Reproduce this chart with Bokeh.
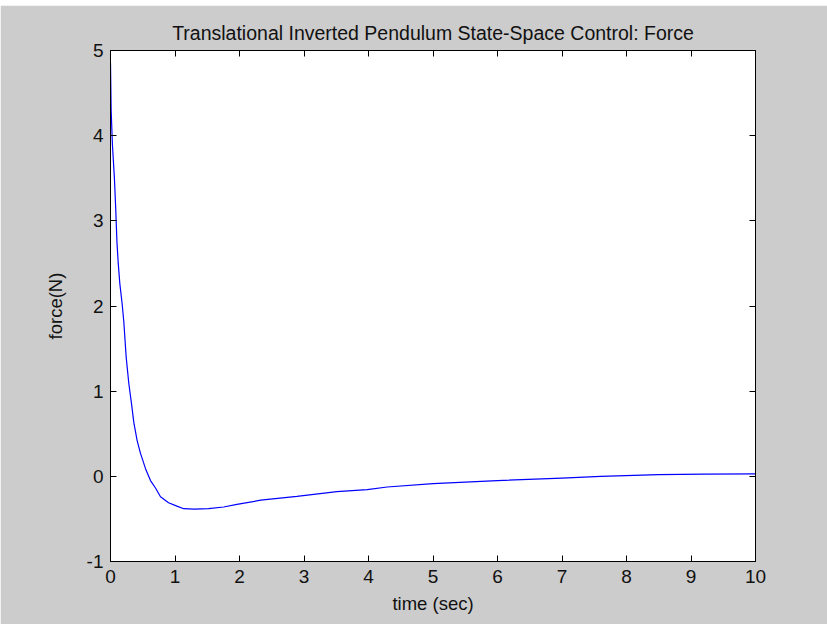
from bokeh.plotting import figure
from bokeh.models import LinearAxis, Range1d, FixedTicker, Title, Spacer
from bokeh.layouts import column
from bokeh.embed import file_html
from bokeh.resources import INLINE

# data
t = [0.0, 0.01, 0.03, 0.06, 0.08, 0.10, 0.12, 0.145, 0.18, 0.207, 0.243, 0.284,
     0.326, 0.362, 0.413, 0.465, 0.543, 0.62, 0.70, 0.775, 0.90, 1.03, 1.135,
     1.3, 1.52, 1.755, 1.96, 2.33, 2.89, 3.51, 3.98, 4.29, 5.0, 6.0, 7.0, 7.6,
     8.5, 9.2, 10.0]
force = [4.85, 4.3, 3.89, 3.51, 3.16, 2.75, 2.5, 2.26, 2.03, 1.81, 1.40, 1.09,
         0.85, 0.63, 0.42, 0.27, 0.09, -0.05, -0.14, -0.24, -0.31, -0.35, -0.38,
         -0.385, -0.38, -0.36, -0.33, -0.28, -0.235, -0.18, -0.156, -0.125,
         -0.085, -0.05, -0.02, 0.0, 0.02, 0.025, 0.03]
x_ticks = [0, 1, 2, 3, 4, 5, 6, 7, 8, 9, 10]
y_ticks = [-1, 0, 1, 2, 3, 4, 5]
y_tick_labels = ["-1", "0", "1", "2", "3", "4", "5"]

FONT = "Liberation Sans"
GRAY = "#cccccc"

p = figure(width=827, height=619, output_backend="svg", toolbar_location=None,
           x_range=Range1d(0, 10), y_range=Range1d(-1, 5),
           x_axis_location=None, y_axis_location=None,
           min_border_left=110, min_border_right=72, min_border_top=45,
           min_border_bottom=63)
p.background_fill_color = "white"
p.border_fill_color = GRAY
p.outline_line_color = "black"
p.grid.visible = False

def style(ax):
    ax.axis_line_color = "black"
    ax.major_tick_line_color = "black"
    ax.major_tick_in = 6
    ax.major_tick_out = 0
    ax.minor_tick_line_color = None
    ax.major_label_text_font = FONT
    ax.major_label_text_font_size = "19px"
    ax.major_label_text_color = "#111111"
    ax.axis_label_text_font = FONT
    ax.axis_label_text_font_size = "18.5px"
    ax.axis_label_text_font_style = "normal"
    ax.axis_label_text_color = "#111111"

xb = LinearAxis(ticker=FixedTicker(ticks=x_ticks), axis_label="time (sec)")
style(xb)
xb.major_label_standoff = 8
xb.axis_label_standoff = 7
p.add_layout(xb, "below")

yl = LinearAxis(ticker=FixedTicker(ticks=y_ticks), axis_label="force(N)")
style(yl)
yl.major_label_overrides = {v: s for v, s in zip(y_ticks, y_tick_labels)}
yl.major_label_standoff = 7
yl.axis_label_standoff = 18
p.add_layout(yl, "left")

xt = LinearAxis(ticker=FixedTicker(ticks=x_ticks))
style(xt)
xt.major_label_overrides = {v: "" for v in x_ticks}
xt.major_label_standoff = 0
p.add_layout(xt, "above")

yr = LinearAxis(ticker=FixedTicker(ticks=y_ticks))
style(yr)
yr.major_label_overrides = {v: "" for v in y_ticks}
yr.major_label_standoff = 0
p.add_layout(yr, "right")

p.title = Title(text="Translational Inverted Pendulum State-Space Control: Force",
                align="center", text_font=FONT, text_font_size="19.5px",
                text_font_style="normal", text_color="#111111", standoff=14)

p.line(t, force, line_color="#0000ff", line_width=1.2)

layout = column(Spacer(width=827, height=5), p, spacing=0)
open("out.html", "w").write(file_html(layout, INLINE))
